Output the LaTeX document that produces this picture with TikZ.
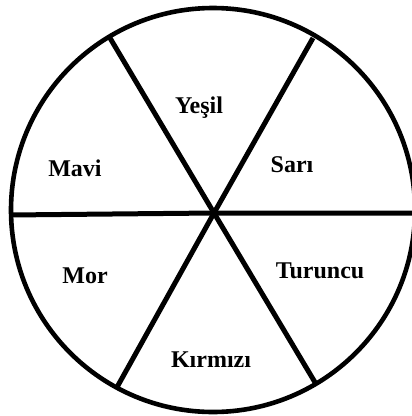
\documentclass[tikz,border=0pt]{standalone}
\usepackage{fontspec}
\setmainfont{Liberation Serif}
\begin{document}
\begin{tikzpicture}[x=1pt,y=-1pt,
  rim/.style={line width=4.6pt},
  spoke/.style={line width=5pt},
  lbl/.style={font=\fontsize{24}{26}\selectfont\bfseries, anchor=base, inner sep=0pt}]
\useasboundingbox (0,0) rectangle (412,416);
\coordinate (o) at (213,210);
\draw[rim] (o) circle[radius=202];
\coordinate (c) at (214,213);
\coordinate (ul) at (110,38);
\coordinate (ur) at (313,38);
\coordinate (ll) at (116,389);
\coordinate (lr) at (316,384);
\coordinate (l) at (10,215);
\coordinate (r) at (414,213);
\draw[spoke] (ul) -- (c) -- (lr);
\draw[spoke] (ur) -- (c) -- (ll);
\draw[spoke] (l) -- (c) -- (r);
\node[lbl] (yesil) at (199,113) {Yeşil};
\node[lbl] (mavi) at (75,176) {Mavi};
\node[lbl] (sari) at (292,172) {Sarı};
\node[lbl] (mor) at (85,283) {Mor};
\node[lbl] (turuncu) at (320,278) {Turuncu};
\node[lbl] (kirmizi) at (211,367) {Kırmızı};
\end{tikzpicture}
\end{document}
